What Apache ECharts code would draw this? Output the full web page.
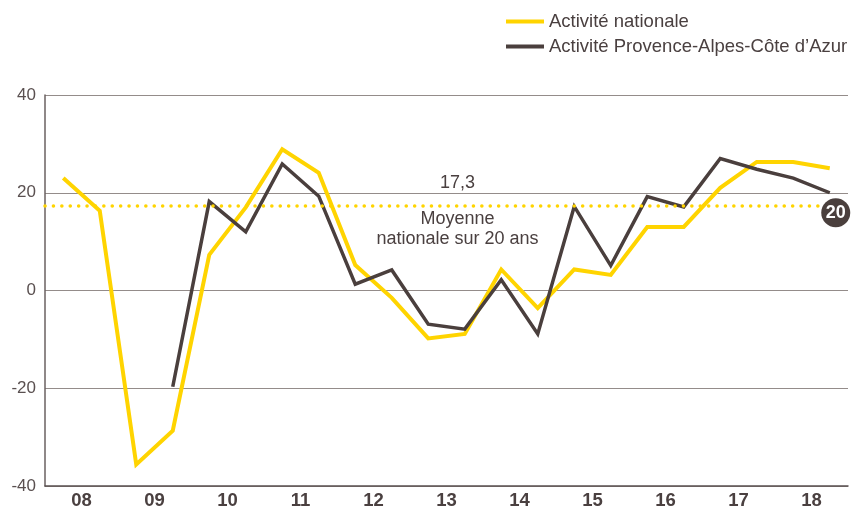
<!DOCTYPE html>
<html>
<head>
<meta charset="utf-8">
<script src="https://cdn.jsdelivr.net/npm/echarts@6/dist/echarts.min.js"></script>
<style>
  html, body { margin: 0; padding: 0; background: #fff; }
  #chart { width: 852px; height: 506px; }
</style>
</head>
<body>
<div id="chart"></div>
<script>
// years on the axis, two half-year points per year
var years = ["08", "09", "10", "11", "12", "13", "14", "15", "16", "17", "18"];
var national = [23, 16.3, -35.6, -28.7, 7.3, 17, 28.9, 24.1, 5.2, -1.5, -9.8, -8.9, 4.3, -3.6, 4.3, 3.2, 13, 13, 21, 26.3, 26.3, 25];
var paca = [null, null, null, -19.7, 18.2, 12, 25.9, 19.3, 1.3, 4.2, -6.9, -7.9, 2.2, -8.9, 17.2, 5.1, 19.2, 17.1, 27, 24.8, 23, 20];
var average = 17.3;
var yTicks = [-40, -20, 0, 20, 40];

var yellow = "#ffd400";
var dark = "#4a3f3d";
var textColor = "#4a4040";

var natPoints = national.map(function (v, i) { return [i, v]; });
var pacaPoints = paca.map(function (v, i) { return [i, v]; });
var lastIdx = paca.length - 1;

var dom = document.getElementById("chart");
var myChart = echarts.init(dom);
var option = {
    animation: false,
    textStyle: { fontFamily: "Liberation Sans, Arial, sans-serif" },
    legend: {
        orient: "vertical",
        left: 506,
        top: 11,
        padding: 0,
        itemGap: 4,
        itemWidth: 38,
        itemHeight: 4,
        icon: "rect",
        data: ["Activité nationale", "Activité Provence-Alpes-Côte d\u2019Azur"],
        textStyle: { color: textColor, fontSize: 18.5, lineHeight: 21, padding: [0, 0, 0, 0] }
    },
    grid: { left: 45, right: 4, top: 95, bottom: 20, outerBoundsMode: "none", containLabel: false },
    xAxis: [{
        type: "category",
        data: years,
        boundaryGap: true,
        axisLine: { onZero: false, lineStyle: { color: "#5a5050", width: 1.5 } },
        axisTick: { length: 5, lineStyle: { color: "#5a5050" } },
        axisLabel: { color: textColor, fontSize: 18.5, fontWeight: "bold", margin: 5 },
        splitLine: { show: false }
    }, {
        type: "value",
        min: -0.5,
        max: national.length - 0.5,
        show: false
    }],
    yAxis: {
        type: "value",
        min: yTicks[0],
        max: yTicks[yTicks.length - 1],
        interval: 20,
        axisLine: { show: true, onZero: false, lineStyle: { color: "#6a6060", width: 1.5 } },
        axisTick: { show: false },
        axisLabel: { color: "#5a5050", fontSize: 17, margin: 9 },
        splitLine: { lineStyle: { color: "#948c8a", width: 1.2 } }
    },
    series: [{
        name: "Activité nationale",
        type: "line",
        xAxisIndex: 1,
        data: natPoints,
        showSymbol: false,
        symbol: "none",
        color: yellow,
        lineStyle: { color: yellow, width: 4, join: "miter" },
        markLine: {
            silent: true,
            symbol: "none",
            label: { show: false },
            lineStyle: { color: yellow, width: 3.5, type: [0.1, 8.3], cap: "round" },
            data: [{ yAxis: average }]
        },
        markPoint: {
            silent: true,
            symbol: "circle",
            symbolSize: 1,
            itemStyle: { color: "rgba(0,0,0,0)" },
            data: [{
                coord: [10.8, average],
                label: {
                    show: true, position: "top", distance: 13,
                    formatter: String(average).replace(".", ","),
                    color: textColor, fontSize: 18
                }
            }, {
                coord: [10.8, average],
                label: {
                    show: true, position: "bottom", distance: 3,
                    formatter: "Moyenne\nnationale sur 20 ans",
                    color: textColor, fontSize: 18, lineHeight: 20, align: "center"
                }
            }]
        }
    }, {
        name: "Activité Provence-Alpes-Côte d\u2019Azur",
        type: "line",
        xAxisIndex: 1,
        data: pacaPoints,
        showSymbol: false,
        symbol: "none",
        color: dark,
        lineStyle: { color: dark, width: 3.5, join: "miter" },
        markPoint: {
            silent: true,
            symbol: "circle",
            symbolSize: 29,
            symbolOffset: [6, 20],
            itemStyle: { color: dark },
            data: [{
                coord: [lastIdx, paca[lastIdx]],
                value: paca[lastIdx],
                label: {
                    show: true, position: "inside", formatter: "{c}",
                    color: "#fff", fontSize: 18, fontWeight: "bold"
                }
            }]
        }
    }]
};
option && "object" == typeof option && myChart.setOption(option, !0);
</script>
</body>
</html>
